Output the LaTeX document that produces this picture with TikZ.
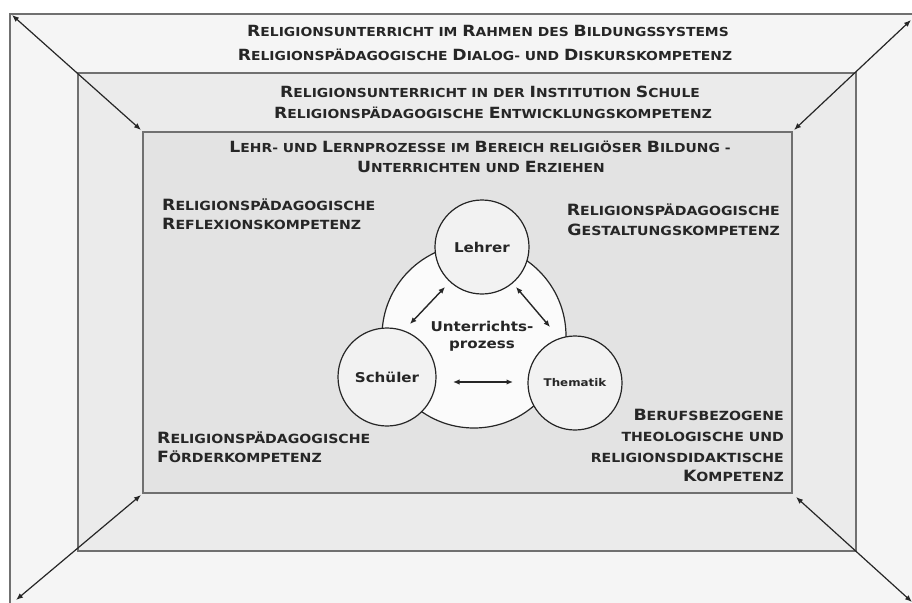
\documentclass[tikz,border=0pt]{standalone}
\usepackage{fontspec}
\setmainfont{DejaVu Sans}[FakeStretch=1.12]
\usetikzlibrary{arrows.meta}
\definecolor{outerfill}{HTML}{F5F5F5}
\definecolor{midfill}{HTML}{EBEBEB}
\definecolor{innerfill}{HTML}{E3E3E3}
\definecolor{boxline}{HTML}{707070}
\definecolor{ink}{HTML}{262626}
\definecolor{smallfill}{HTML}{F2F2F2}
\definecolor{bigfill}{HTML}{FBFBFB}
\newcommand\Bg[1]{{\fontsize{15.5}{15.5}\selectfont #1}}
\newcommand\Bt[1]{{\fontsize{15.4}{15.4}\selectfont #1}}
\tikzset{
  frame/.style={draw=boxline, line width=1.4pt, anchor=north west, inner sep=0pt, outer sep=0pt},
  corner/.style={draw=ink, line width=1.2pt, {Latex[length=7pt,width=5.5pt]}-{Latex[length=7pt,width=5.5pt]}},
  inarrow/.style={draw=ink, line width=1.4pt, {Latex[length=6.5pt,width=5.5pt]}-{Latex[length=6.5pt,width=5.5pt]}},
  ttl/.style={anchor=base, inner sep=0pt, text=ink, font=\bfseries\fontsize{12.4}{12}\selectfont},
  lbl/.style={inner sep=0pt, text=ink, font=\bfseries\fontsize{12.6}{14}\selectfont},
  lblw/.style={lbl, anchor=base west},
  lble/.style={lbl, anchor=base east},
  small/.style={circle, draw=ink, line width=1.2pt, fill=smallfill, inner sep=0pt, text=ink, font=\bfseries\fontsize{13.5}{14}\selectfont},
}
\begin{document}
\begin{tikzpicture}[x=1pt,y=-1pt]
\useasboundingbox (0,0) rectangle (912,602);
\clip (0,0) rectangle (912,602);
\fill[white] (0,0) rectangle (912,602);
% frames
\node[frame, fill=outerfill, minimum width=906pt, minimum height=594pt] (outer) at (10,14) {};
\node[frame, fill=midfill, minimum width=778pt, minimum height=478pt] (mid) at (78,73) {};
\node[frame, fill=innerfill, minimum width=649pt, minimum height=361pt] (inner) at (143,132) {};
% corner arrows
\coordinate (otl) at (12,15);
\coordinate (otr) at (911,20);
\coordinate (obl) at (16,600);
\coordinate (obr) at (912,602);
\draw[corner] (otl) -- ([shift={(-2,-2)}]inner.north west);
\draw[corner] (otr) -- ([shift={(2,-2)}]inner.north east);
\draw[corner] (obl) -- ([shift={(-2,2)}]inner.south west);
\draw[corner] (obr) -- ([shift={(4,4)}]inner.south east);
% titles
\node[ttl] (t1a) at (488,37) {\Bt{R}ELIGIONSUNTERRICHT IM \Bt{R}AHMEN DES \Bt{B}ILDUNGSSYSTEMS};
\node[ttl] (t1b) at (485,60) {\Bt{R}ELIGIONSPÄDAGOGISCHE \Bt{D}IALOG- UND \Bt{D}ISKURSKOMPETENZ};
\node[ttl] (t2a) at (490,97) {\Bt{R}ELIGIONSUNTERRICHT IN DER \Bt{I}NSTITUTION \Bt{S}CHULE};
\node[ttl] (t2b) at (493,118) {\Bt{R}ELIGIONSPÄDAGOGISCHE \Bt{E}NTWICKLUNGSKOMPETENZ};
\node[ttl] (t3a) at (480,152) {\Bt{L}EHR- UND \Bt{L}ERNPROZESSE IM \Bt{B}EREICH RELIGIÖSER \Bt{B}ILDUNG -};
\node[ttl] (t3b) at (481,172) {\Bt{U}NTERRICHTEN UND \Bt{E}RZIEHEN};
% competence labels
\node[lblw] (ula) at (162,210) {\Bg{R}ELIGIONSPÄDAGOGISCHE};
\node[lblw] (ulb) at (162,229) {\Bg{R}EFLEXIONSKOMPETENZ};
\node[lble] (ura) at (780,215) {\Bg{R}ELIGIONSPÄDAGOGISCHE};
\node[lble] (urb) at (780,235) {\Bg{G}ESTALTUNGSKOMPETENZ};
\node[lblw] (lla) at (157,443) {\Bg{R}ELIGIONSPÄDAGOGISCHE};
\node[lblw] (llb) at (157,462) {\Bg{F}ÖRDERKOMPETENZ};
\node[lble] (lra) at (784,420) {\Bg{B}ERUFSBEZOGENE};
\node[lble] (lrb) at (784,441) {THEOLOGISCHE UND};
\node[lble] (lrc) at (784,462) {RELIGIONSDIDAKTISCHE};
\node[lble] (lrd) at (784,481) {\Bg{K}OMPETENZ};
% circles
\node[circle, draw=ink, line width=1.2pt, fill=bigfill, minimum size=184pt, inner sep=0pt] (proc) at (474,336) {};
\node[small, minimum size=94pt] (lehrer) at (482,247) {Lehrer};
\node[small, minimum size=98pt] (schueler) at (387,377) {Schüler};
\node[small, minimum size=94pt, font=\bfseries\fontsize{10.6}{12}\selectfont] (thematik) at (575,383) {Thematik};
\node[align=center, text=ink, font=\bfseries\fontsize{13.5}{17}\selectfont, inner sep=0pt] (ut) at (482,336) {Unterrichts-\\prozess};
% inner arrows
\coordinate (a1) at (445,287);
\coordinate (a2) at (410,324);
\coordinate (b1) at (516,287);
\coordinate (b2) at (550,327);
\coordinate (c1) at (453,382);
\coordinate (c2) at (513,382);
\draw[inarrow] (a1) -- (a2);
\draw[inarrow] (b1) -- (b2);
\draw[inarrow] (c1) -- (c2);
\end{tikzpicture}
\end{document}
